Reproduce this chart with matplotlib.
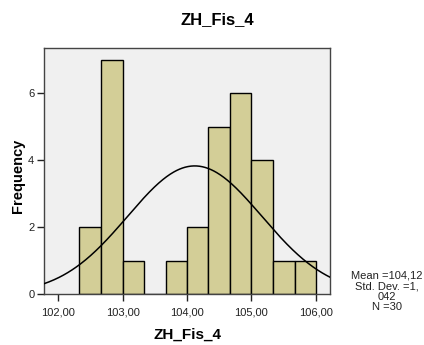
import numpy as np
import matplotlib.pyplot as plt

plt.rcParams['font.family'] = ['Liberation Sans', 'DejaVu Sans']

# histogram bins (lower/upper edges) and counts
bin_edges = [102.33, 102.67, 103.00, 103.33, 103.67, 104.00,
             104.33, 104.67, 105.00, 105.33, 105.67, 106.00]
counts = [2, 7, 1, 0, 1, 2, 5, 6, 4, 1, 1]

mean = 104.12
std_dev = 1.042
n_obs = 30

x_ticks = [102, 103, 104, 105, 106]
y_ticks = [0, 2, 4, 6]

W, H = 424, 345
fig = plt.figure(figsize=(W / 100, H / 100), dpi=100)
ax = fig.add_axes([44 / W, 1 - 294 / H, 286 / W, 246 / H])
ax.set_facecolor('#f0f0f0')

edges = np.array(bin_edges)
widths = np.diff(edges)
ax.bar(edges[:-1], counts, width=widths, align='edge',
       color='#d3ce97', edgecolor='black', linewidth=1.0, zorder=2)

# fitted normal curve scaled to the histogram
xs = np.linspace(101.78, 106.22, 400)
bw = widths.mean()
pdf = np.exp(-0.5 * ((xs - mean) / std_dev) ** 2) / (std_dev * np.sqrt(2 * np.pi))
ax.plot(xs, n_obs * bw * pdf, color='black', linewidth=1.1, zorder=3)

ax.set_xlim(101.78, 106.22)
ax.set_ylim(0, 7.36)
ax.set_xticks(x_ticks)
ax.set_xticklabels([f"{t:.2f}".replace('.', ',') for t in x_ticks])
ax.set_yticks(y_ticks)
ax.tick_params(direction='out', length=5, width=1, labelsize=8,
               color='#222222', labelcolor='#222222')
ax.tick_params(axis='x', pad=4.5)
ax.tick_params(axis='y', pad=2)

for sp in ax.spines.values():
    sp.set_color('#444444')
    sp.set_linewidth(1.0)

# titles placed in figure pixels
fig.text(217.5 / W, 1 - 20 / H, 'ZH_Fis_4', ha='center', va='center',
         fontsize=12, fontweight='bold')
fig.text(187 / W, 1 - 335 / H, 'ZH_Fis_4', ha='center', va='center',
         fontsize=11, fontweight='bold')
fig.text(18 / W, 1 - 176 / H, 'Frequency', ha='center', va='center',
         rotation=90, fontsize=10.5, fontweight='bold')

stats = 'Mean =104,12\nStd. Dev. =1,\n042\nN =30'
fig.text(386.5 / W, 1 - 271 / H, stats, ha='center', va='top',
         fontsize=8, linespacing=1.05, color='#222222')

fig.savefig('out.png', dpi=100)
